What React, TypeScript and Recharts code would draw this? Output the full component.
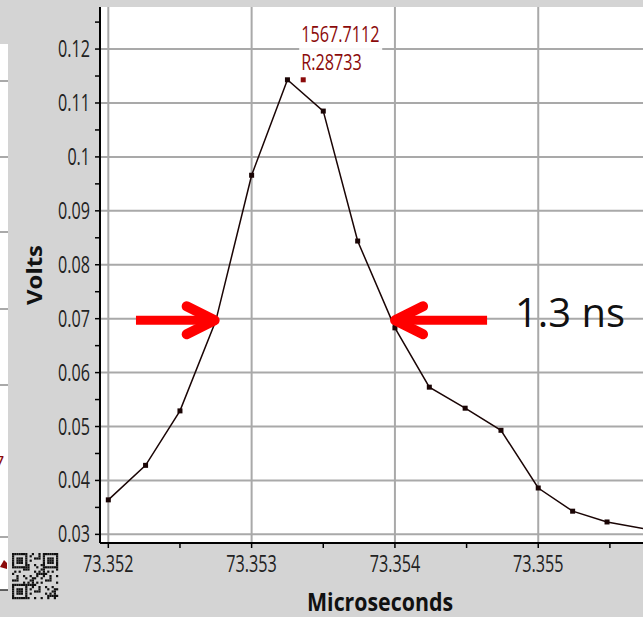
import React from 'react'
import {
  LineChart,
  Line,
  XAxis,
  YAxis,
  CartesianGrid,
  ReferenceLine,
  ReferenceDot,
  Scatter,
} from 'recharts'

// time of flight (microseconds) vs detector signal (volts)
const timeUs = [
  73.352, 73.35226, 73.3525, 73.35275, 73.353, 73.35325, 73.3535, 73.35374,
  73.354, 73.35424, 73.35449, 73.35474, 73.355, 73.35524, 73.35548, 73.35575,
]
const volts = [
  0.0364, 0.0428, 0.0529, 0.0696, 0.0966, 0.1143, 0.1085, 0.0844,
  0.0683, 0.0573, 0.0534, 0.0493, 0.0386, 0.0343, 0.0323, 0.031,
]

const xMajor = [73.352, 73.353, 73.354, 73.355]
const xMinor = [73.3525, 73.3535, 73.3545, 73.3555]
const yMajor = [0.03, 0.04, 0.05, 0.06, 0.07, 0.08, 0.09, 0.1, 0.11, 0.12]
const yMinor = [0.035, 0.045, 0.055, 0.065, 0.075, 0.085, 0.095, 0.105, 0.115, 0.125]

// peak label
const peakMarkX = [73.35336]
const peakMarkY = [0.1143]
const peakLines = ['1567.7112', 'R:28733']

// FWHM arrows: tail -> tip
const arrowTailX = [73.352193, 73.354643]
const arrowTipX = [73.352756, 73.353987]
const arrowY = 0.0697
const fwhmText = '1.3 ns'
const fwhmTextX = 73.354838
const fwhmTextY = 0.06844

const xDomain = [73.351942, 73.355731]
const yDomain = [0.0284, 0.1278]

const data = timeUs.map((t, i) => ({ t, v: volts[i] }))
const peakData = peakMarkX.map((x, i) => ({ t: x, v: peakMarkY[i] }))
const arrowData = arrowTipX.map((x, i) => ({ t: x, v: arrowY, dir: i === 0 ? 1 : -1 }))

const FONT = '"Open Sans", "DejaVu Sans", sans-serif'
const RED = '#ff0000'
const DARKRED = '#8b0a0a'

const isMajor = (list: number[], v: number) => list.some((m) => Math.abs(m - v) < 1e-9)
const numWidth = (s: string) =>
  s.split('').reduce((w, c) => w + (c === '.' || c === ':' ? 4 : c === 'R' ? 10 : 9.3), 0)

const YTick = (props: any) => {
  const { x, y, payload } = props
  const v = payload.value
  const major = isMajor(yMajor, v)
  const label = String(+v.toFixed(2))
  return (
    <g>
      <line x1={x - 5} x2={x} y1={y} y2={y} stroke="#000" strokeWidth={1.5} />
      {major && (
        <text
          x={x - 10}
          y={y + 8}
          textAnchor="end"
          fontFamily={FONT}
          fontSize={23}
          fill="#222"
          textLength={numWidth(label)}
          lengthAdjust="spacingAndGlyphs"
        >
          {label}
        </text>
      )}
    </g>
  )
}

const XTick = (props: any) => {
  const { x, y, payload } = props
  const v = payload.value
  const major = isMajor(xMajor, v)
  const label = v.toFixed(3)
  return (
    <g>
      <line x1={x} x2={x} y1={y} y2={y + 5} stroke="#000" strokeWidth={1.5} />
      {major && (
        <text
          x={x}
          y={y + 29}
          textAnchor="middle"
          fontFamily={FONT}
          fontSize={23}
          fill="#222"
          textLength={numWidth(label)}
          lengthAdjust="spacingAndGlyphs"
        >
          {label}
        </text>
      )}
    </g>
  )
}

const SquareDot = (props: any) => {
  const { cx, cy } = props
  if (cx == null || cy == null) return null
  return <rect x={cx - 2.5} y={cy - 2.5} width={5} height={5} fill="#1a0505" />
}

const PeakLabel = (props: any) => {
  const { cx, cy } = props
  return (
    <g>
      <rect x={cx - 4} y={cy - 59} width={83} height={55} fill="#fff" fillOpacity={0.92} />
      <rect x={cx - 2.5} y={cy - 2.5} width={5} height={5} fill={DARKRED} />
      {peakLines.map((s, i) => (
        <text
          key={s}
          x={cx - 2}
          y={cy - 38 + i * 28}
          fontFamily={FONT}
          fontSize={22}
          fill={DARKRED}
          textLength={numWidth(s)}
          lengthAdjust="spacingAndGlyphs"
        >
          {s}
        </text>
      ))}
    </g>
  )
}

const ArrowHead = (props: any) => {
  const { cx, cy, payload } = props
  const d = payload.dir
  return (
    <polyline
      points={`${cx - d * 30},${cy - 14} ${cx - d * 2},${cy} ${cx - d * 30},${cy + 14}`}
      fill="none"
      stroke={RED}
      strokeWidth={10}
      strokeLinecap="round"
      strokeLinejoin="round"
    />
  )
}

const FwhmLabel = (props: any) => {
  const { cx, cy } = props
  return (
    <text
      x={cx}
      y={cy}
      fontFamily={FONT}
      fontSize={41}
      fill="#111"
      textLength={110}
      lengthAdjust="spacingAndGlyphs"
    >
      {fwhmText}
    </text>
  )
}

// pseudo QR block in the corner of the screenshot
const QR = () => {
  const n = 21
  const s = 2.2
  const cells: React.ReactNode[] = []
  const finder = (r: number, c: number) => {
    const inBox = (r0: number, c0: number) => r >= r0 && r < r0 + 7 && c >= c0 && c < c0 + 7
    for (const [r0, c0] of [[0, 0], [0, 14], [14, 0]]) {
      if (inBox(r0, c0)) {
        const rr = r - r0
        const cc = c - c0
        return rr === 0 || rr === 6 || cc === 0 || cc === 6 || (rr >= 2 && rr <= 4 && cc >= 2 && cc <= 4)
      }
    }
    return null
  }
  for (let r = 0; r < n; r++) {
    for (let c = 0; c < n; c++) {
      const f = finder(r, c)
      const on = f === null ? (r * 7 + c * 13 + ((r * c) % 5)) % 3 === 0 : f
      if (on) cells.push(<rect key={`${r}-${c}`} x={12 + c * s} y={553 + r * s} width={s} height={s} fill="#111" />)
    }
  }
  return <g>{cells}</g>
}

const Backdrop = () => (
  <svg width={643} height={617} style={{ position: 'absolute', left: 0, top: 0 }}>
    <rect x={0} y={0} width={643} height={617} fill="#d4d4d4" />
    <rect x={0} y={44} width={8} height={546} fill="#fff" />
    {[81, 157, 232, 309, 385, 537].map((y) => (
      <line key={y} x1={0} x2={8} y1={y} y2={y} stroke="#a9a9a9" strokeWidth={2} />
    ))}
    <line x1={0} x2={8} y1={590} y2={590} stroke="#333" strokeWidth={1.5} />
    <text x={-6} y={469} fontFamily={FONT} fontSize={18} fill={DARKRED}>7</text>
    <path d="M0,567 L4,560 L7,563 L7,569" fill={DARKRED} />
    <QR />
    <text
      transform="translate(42,275) rotate(-90)"
      textAnchor="middle"
      fontFamily={FONT}
      fontWeight="bold"
      fontSize={22}
      fill="#111"
      textLength={60}
      lengthAdjust="spacingAndGlyphs"
    >
      Volts
    </text>
    <text
      x={380}
      y={611}
      textAnchor="middle"
      fontFamily={FONT}
      fontWeight="bold"
      fontSize={25}
      fill="#111"
      textLength={146}
      lengthAdjust="spacingAndGlyphs"
    >
      Microseconds
    </text>
  </svg>
)

export default function App() {
  return (
    <div style={{ position: 'fixed', left: 0, top: 0, width: 643, height: 617, overflow: 'hidden' }}>
      <Backdrop />
      <div style={{ position: 'absolute', left: 0, top: 0 }}>
        <LineChart width={643} height={617} data={data} margin={{ top: 7, right: 0, bottom: 0, left: 0 }}>
          <CartesianGrid horizontal={false} vertical={false} fill="#ffffff" fillOpacity={1} />
          <XAxis
            dataKey="t"
            type="number"
            domain={xDomain}
            allowDataOverflow
            ticks={[...xMajor, ...xMinor].sort((a, b) => a - b)}
            interval={0}
            height={74}
            tickSize={0}
            tickMargin={0}
            tickLine={false}
            axisLine={{ stroke: '#000', strokeWidth: 2 }}
            tick={(p: any) => <XTick {...p} />}
          />
          <YAxis
            dataKey="v"
            type="number"
            domain={yDomain}
            allowDataOverflow
            ticks={[...yMajor, ...yMinor].sort((a, b) => a - b)}
            interval={0}
            width={100}
            tickSize={0}
            tickMargin={0}
            tickLine={false}
            axisLine={{ stroke: '#000', strokeWidth: 2 }}
            tick={(p: any) => <YTick {...p} />}
          />
          {xMajor.map((x) => (
            <ReferenceLine key={`gx${x}`} x={x} stroke="#a9a9a9" strokeWidth={2} />
          ))}
          {yMajor.map((y) => (
            <ReferenceLine key={`gy${y}`} y={y} stroke="#a9a9a9" strokeWidth={2} />
          ))}
          <Line
            dataKey="v"
            stroke="#1a0505"
            strokeWidth={1.5}
            dot={<SquareDot />}
            activeDot={false}
            isAnimationActive={false}
          />
          <Scatter data={peakData} dataKey="v" shape={<PeakLabel />} isAnimationActive={false} />
          {arrowTipX.map((tip, i) => (
            <ReferenceLine
              key={`arrow${i}`}
              segment={[
                { x: arrowTailX[i], y: arrowY },
                { x: tip + (i === 0 ? -0.00003 : 0.00003), y: arrowY },
              ]}
              stroke={RED}
              strokeWidth={9}
            />
          ))}
          <Scatter data={arrowData} dataKey="v" shape={<ArrowHead />} isAnimationActive={false} />
          <ReferenceDot x={fwhmTextX} y={fwhmTextY} shape={<FwhmLabel />} />
        </LineChart>
      </div>
    </div>
  )
}
